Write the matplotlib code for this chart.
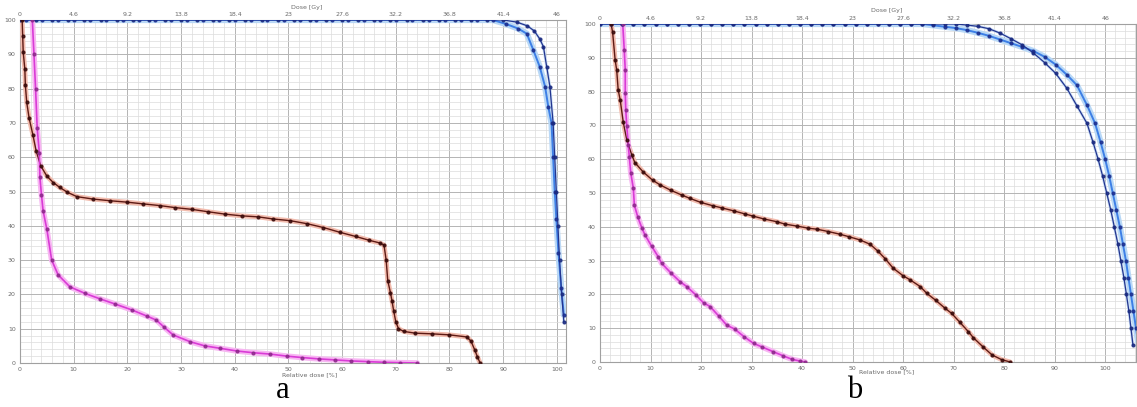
import numpy as np
import matplotlib
matplotlib.use("Agg")
import matplotlib.pyplot as plt

# relative dose ticks (bottom) and dose ticks (top)
rel_ticks = [0, 10, 20, 30, 40, 50, 60, 70, 80, 90, 100]
vol_ticks = [0, 10, 20, 30, 40, 50, 60, 70, 80, 90, 100]
dose_ticks = [0, 4.6, 9.2, 13.8, 18.4, 23, 27.6, 32.2, 36.8, 41.4, 46]
dose_labels = ["0", "4.6", "9.2", "13.8", "18.4", "23", "27.6", "32.2", "36.8", "41.4", "46"]
dose_max = 46.0

# ---- panel a ----
a_brown_x = [0.4, 0.5, 0.6, 0.9, 1.0, 1.25, 1.7, 2.4, 3.0, 3.85,
             5.0, 6.2, 7.4, 8.8, 10.6, 13.6, 16.8, 19.9, 22.9, 26.0,
             28.9, 32.0, 35.0, 38.2, 41.3, 44.4, 47.1, 50.3, 53.5, 56.5,
             59.6, 62.5, 65.0, 67.0, 67.8, 68.2, 68.5, 69.0, 69.3, 69.6,
             70.0, 70.5, 71.5, 73.6, 76.8, 80.0, 83.2, 84.0, 84.7, 85.2,
             85.7]
a_brown_y = [100, 95.3, 90.6, 85.7, 81.0, 76.0, 71.4, 66.5, 61.9, 57.5,
             54.5, 52.6, 51.2, 49.8, 48.5, 47.8, 47.3, 46.9, 46.4, 45.9,
             45.3, 44.8, 44.1, 43.4, 42.9, 42.6, 42.0, 41.5, 40.6, 39.5,
             38.1, 36.9, 35.8, 35.0, 34.4, 30.0, 24.0, 20.5, 18.0, 15.2,
             12.0, 10.0, 9.2, 8.7, 8.5, 8.2, 7.6, 6.4, 3.8, 1.8,
             0]

a_magenta_x = [2.3, 2.6, 2.9, 3.2, 3.6, 3.7, 4.0, 4.3, 5.0, 5.9,
               7.1, 9.3, 12.1, 14.9, 17.7, 20.8, 23.6, 25.4, 26.8, 28.5,
               31.7, 34.4, 37.2, 40.4, 43.4, 46.6, 49.7, 52.5, 55.6, 58.7,
               61.7, 64.8, 67.8, 70.8, 74.0]
a_magenta_y = [100, 90, 80, 68.5, 61.2, 54.3, 49.0, 44.4, 39.0, 30.0,
               25.7, 22.2, 20.3, 18.7, 17.2, 15.5, 13.7, 12.5, 10.5, 8.2,
               6.2, 5.0, 4.3, 3.5, 3.0, 2.6, 2.0, 1.6, 1.2, 0.9,
               0.6, 0.4, 0.2, 0.1, 0]

a_blue_dark_x = [0, 3, 6, 9, 12, 15, 18, 21, 24, 27, 30, 33, 36, 39, 42, 45,
                 48, 51, 54, 57, 60, 63, 66, 69, 72, 75, 78, 81, 84, 87, 90,
                 92.5, 94.5, 95.8, 96.8, 97.5, 98.1, 98.7, 99.3, 99.6, 99.9,
                 100.2, 100.5, 100.9, 101.3]
a_blue_dark_y = [100, 100, 100, 100, 100, 100, 100, 100, 100, 100, 100, 100,
                 100, 100, 100, 100, 100, 100, 100, 100, 100, 100, 100, 100,
                 100, 100, 100, 100, 100, 100, 100,
                 99.4, 98.3, 96.8, 94.5, 92.2, 86.4, 80.6, 70, 60, 50,
                 40, 30, 20, 12]

a_blue_light_x = [1.1, 4.1, 7.1, 10.1, 13.1, 16.1, 19.1, 22.1, 25.1, 28.1,
                  31.1, 34.1, 37.1, 40.1, 43.1, 46.1, 49.1, 52.1, 55.1, 58.1,
                  61.1, 64.1, 67.1, 70.1, 73.1, 76.1, 79.1, 82.1, 85.1, 88.1,
                  90.6, 92.8, 94.4, 95.6, 96.8, 97.8, 98.4, 99.0, 99.3, 99.6,
                  99.9, 100.3, 100.8, 101.3]
a_blue_light_y = [100, 100, 100, 100, 100, 100, 100, 100, 100, 100,
                  100, 100, 100, 100, 100, 100, 100, 100, 100, 100,
                  100, 100, 100, 100, 100, 100, 100, 100, 100, 100,
                  98.8, 97.5, 96.0, 91.3, 86.4, 80.6, 74.7, 70, 60, 50,
                  42, 32, 22, 14]

# ---- panel b ----
b_brown_x = [2.2, 2.5, 3.0, 3.3, 3.6, 4.0, 4.6, 5.3, 6.3, 6.9,
             8.5, 10.4, 11.9, 14.0, 16.2, 17.8, 20.0, 22.4, 24.1, 26.5,
             28.7, 30.2, 32.5, 35.0, 36.6, 39.0, 41.2, 42.9, 45.2, 47.5,
             49.2, 51.5, 53.5, 55.0, 56.5, 58.0, 60.0, 61.4, 63.4, 64.7,
             66.5, 68.3, 69.6, 71.2, 72.9, 73.9, 75.8, 77.6, 79.5, 81.2]
b_brown_y = [100, 97.5, 89.3, 86.4, 80.5, 77.5, 71.0, 65.7, 61.2, 59.0,
             56.3, 53.8, 52.4, 50.8, 49.4, 48.4, 47.2, 46.2, 45.6, 44.7,
             43.8, 43.2, 42.3, 41.5, 40.8, 40.2, 39.6, 39.3, 38.6, 37.8,
             37.1, 36.1, 34.8, 32.8, 30.5, 27.8, 25.5, 24.3, 22.3, 20.3,
             18.2, 15.9, 14.4, 11.8, 9.0, 7.2, 4.5, 2.1, 0.7, 0]

b_magenta_x = [4.5, 4.8, 5.0, 5.0, 5.1, 5.3, 5.6, 5.8, 6.1, 6.6,
               6.8, 7.5, 8.3, 8.9, 10.2, 11.5, 12.2, 14.0, 15.8, 17.2,
               19.0, 20.5, 21.8, 23.5, 25.1, 26.7, 28.5, 30.4, 32.0, 34.2,
               36.3, 38.0, 39.5, 40.6]
b_magenta_y = [100, 92.3, 86.4, 79.6, 74.5, 69.8, 64.2, 60.7, 55.8, 51.4,
               46.4, 42.8, 39.6, 37.6, 34.3, 31.2, 29.2, 26.4, 23.8, 22.3,
               19.8, 17.5, 16.4, 13.6, 10.9, 9.7, 7.5, 5.5, 4.5, 3.1,
               1.8, 0.8, 0.3, 0]

b_blue_dark_x = [0, 2.2, 4.4, 6.6, 8.8, 11.0, 13.2, 15.4, 17.6, 19.8,
                 22.0, 24.2, 26.4, 28.6, 30.8, 33.0, 35.2, 37.4, 39.6, 41.8,
                 44.0, 46.2, 48.4, 50.6, 52.8, 55.0, 57.2, 59.4, 61.6, 63.8,
                 66.0, 68.2, 70.4, 72.6, 74.8, 77.0, 79.2, 81.4, 83.6, 85.8,
                 88.0, 90.2, 92.4, 94.4, 96.4, 97.6, 98.6, 99.5, 100.3, 101.1,
                 101.8, 102.5, 103.1, 103.7, 104.2, 104.7, 105.1, 105.5]
b_blue_dark_y = [100, 100, 100, 100, 100, 100, 100, 100, 100, 100,
                 100, 100, 100, 100, 100, 100, 100, 100, 100, 100,
                 100, 100, 100, 100, 100, 100, 100, 100, 100, 100,
                 100, 100, 100, 99.7, 99.3, 98.6, 97.3, 95.6, 93.8, 91.4,
                 88.6, 85.4, 81.0, 75.8, 70.6, 65, 60, 55, 50, 45,
                 40, 35, 30, 25, 20, 15, 10, 5]

b_blue_light_x = [0, 2.2, 4.4, 6.6, 8.8, 11.0, 13.2, 15.4, 17.6, 19.8,
                  22.0, 24.2, 26.4, 28.6, 30.8, 33.0, 35.2, 37.4, 39.6, 41.8,
                  44.0, 46.2, 48.4, 50.6, 52.8, 55.0, 57.2, 59.4, 61.6, 63.8,
                  66.0, 68.2, 70.4, 72.6, 74.8, 77.0, 79.2, 81.4, 83.6, 85.8,
                  88.0, 90.2, 92.4, 94.4, 96.4, 98.0, 99.1, 100.0, 100.8, 101.5,
                  102.2, 102.9, 103.5, 104.1, 104.6, 105.1, 105.6, 106.1, 106.6]
b_blue_light_y = [100, 100, 100, 100, 100, 100, 100, 100, 100, 100,
                  100, 100, 100, 100, 100, 100, 100, 100, 100, 100,
                  100, 100, 100, 100, 100, 100, 100, 100, 100, 100,
                  99.6, 99.2, 98.8, 98.2, 97.4, 96.5, 95.4, 94.3, 93.2, 92.0,
                  90.3, 88.0, 85.0, 81.9, 76.0, 70.6, 65, 60, 55, 50,
                  45, 40, 35, 30, 25, 20, 15, 10, 5]

W, H = 1137, 407
fig = plt.figure(figsize=(W / 100, H / 100), dpi=100)
fig.patch.set_facecolor("white")

TXT = "#6a6a6a"


def curve(ax, x, y, color, halo, mcolor, lw=1.0, hw=4.0, ms=2.0):
    ax.plot(x, y, color=halo, lw=hw, solid_capstyle="round", zorder=3)
    ax.plot(x, y, color=color, lw=lw, zorder=4)
    ax.plot(x, y, ls="none", marker="o", ms=ms, mfc=mcolor, mec=mcolor,
            alpha=0.85, zorder=5)


def panel(left, top, right, bottom, xmax, dose_pos, rel_pos):
    ax = fig.add_axes([left / W, 1 - bottom / H, (right - left) / W, (bottom - top) / H])
    ax.set_xlim(0, xmax)
    ax.set_ylim(0, 100)
    ax.set_xticks(rel_ticks)
    ax.set_yticks(vol_ticks)
    ax.set_xticks(np.arange(0, xmax, 2), minor=True)
    ax.set_yticks(np.arange(0, 100, 2), minor=True)
    ax.grid(which="minor", color="#dcdcdc", lw=0.5)
    ax.grid(which="major", color="#b4b4b4", lw=0.7)
    ax.set_axisbelow(True)
    ax.tick_params(which="both", length=0, labelsize=4.5, labelcolor=TXT, pad=3)
    for s in ax.spines.values():
        s.set_color("#a0a0a0")
        s.set_linewidth(0.8)
    sec = ax.secondary_xaxis("top", functions=(lambda v: v * dose_max / 100,
                                               lambda d: d * 100 / dose_max))
    sec.set_xticks(dose_ticks)
    sec.set_xticklabels(dose_labels)
    sec.tick_params(length=0, labelsize=4.5, labelcolor=TXT, pad=2)
    sec.spines["top"].set_visible(False)
    ax.text(dose_pos[0], dose_pos[1], "Dose [Gy]", transform=ax.transAxes,
            fontsize=4.5, color=TXT, ha="center", va="center")
    ax.text(rel_pos[0], rel_pos[1], "Relative dose [%]", transform=ax.transAxes,
            fontsize=4.5, color=TXT, ha="center", va="center")
    return ax


ax_a = panel(20, 20, 566, 363, 101.7, (0.525, 1.036), (0.53, -0.035))
curve(ax_a, a_blue_light_x, a_blue_light_y, "#3d7fe6", "#b9d8f6", "#1d2f8f", lw=1.4, hw=4.5)
curve(ax_a, a_blue_dark_x, a_blue_dark_y, "#23358f", "#c8dcf4", "#1a2a80", lw=0.9, hw=2.0)
curve(ax_a, a_brown_x, a_brown_y, "#5e1a14", "#f2bcae", "#3a0c0c", lw=1.0, hw=3.5)
curve(ax_a, a_magenta_x, a_magenta_y, "#d93bd6", "#f7b6f2", "#8e2a8c", lw=1.2, hw=4.0)

ax_b = panel(600, 24, 1136, 362, 106.1, (0.534, 1.04), (0.535, -0.03))
curve(ax_b, b_blue_light_x, b_blue_light_y, "#3d7fe6", "#b9d8f6", "#1d2f8f", lw=1.4, hw=4.5)
curve(ax_b, b_blue_dark_x, b_blue_dark_y, "#23358f", "#c8dcf4", "#1a2a80", lw=0.9, hw=2.0)
curve(ax_b, b_brown_x, b_brown_y, "#5e1a14", "#f2bcae", "#3a0c0c", lw=1.0, hw=3.5)
curve(ax_b, b_magenta_x, b_magenta_y, "#d93bd6", "#f7b6f2", "#8e2a8c", lw=1.2, hw=4.0)

fig.text(283 / W, 1 - 391 / H, "a", fontsize=22, family="Liberation Serif",
         ha="center", va="center")
fig.text(855 / W, 1 - 391 / H, "b", fontsize=22, family="Liberation Serif",
         ha="center", va="center")

fig.savefig("out.png", dpi=100, facecolor="white")
